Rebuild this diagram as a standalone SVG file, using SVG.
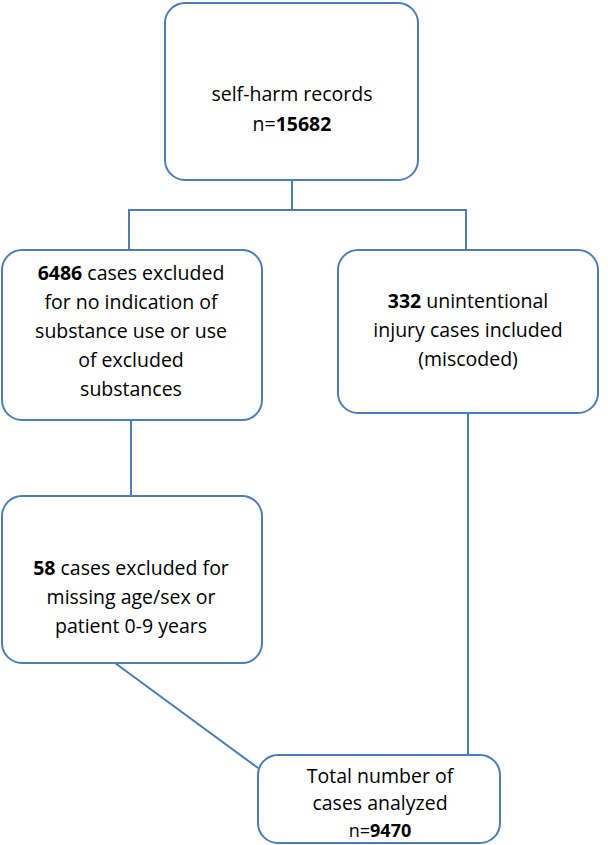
<svg xmlns="http://www.w3.org/2000/svg" width="608" height="845" viewBox="0 0 608 845">
<style>
.b{fill:#fff;stroke:#4a7ebb;stroke-width:2}
.c{fill:none;stroke:#4a7ebb;stroke-width:2}
text{font-family:"Open Sans","Liberation Sans",sans-serif;font-size:19.5px;fill:#000;text-anchor:middle}
.k{font-weight:bold}
</style>
<rect width="608" height="845" fill="#fff"/>
<g id="connectors">
<path class="c" d="M292,180V210M129,250V210H466V250M131,420V496M468,413V755M115,663L258,768"/>
</g>
<g id="n1"><rect class="b" x="165" y="3" width="253" height="177" rx="20"/>
<text x="292" y="101">self-harm records</text><text x="292" y="131">n=<tspan class="k">15682</tspan></text></g>
<g id="n2"><rect class="b" x="2" y="250" width="260" height="170" rx="20"/>
<text x="131" y="280"><tspan class="k">6486</tspan> cases excluded</text>
<text x="131" y="309">for no indication of</text>
<text x="131" y="338">substance use or use</text>
<text x="131" y="367">of excluded</text>
<text x="131" y="396">substances</text></g>
<g id="n3"><rect class="b" x="338" y="250" width="260" height="163" rx="20"/>
<text x="468" y="308"><tspan class="k">332</tspan> unintentional</text>
<text x="468" y="337">injury cases included</text>
<text x="468" y="366">(miscoded)</text></g>
<g id="n4"><rect class="b" x="2" y="496" width="260" height="167" rx="20"/>
<text x="131" y="575"><tspan class="k">58</tspan> cases excluded  for</text>
<text x="131" y="604">missing age/sex or</text>
<text x="131" y="633">patient 0-9 years</text></g>
<g id="n5"><rect class="b" x="258" y="755" width="242" height="88" rx="20"/>
<text x="380" y="783">Total number of</text>
<text x="380" y="810">cases analyzed</text>
<text x="380" y="837" style="font-size:18px">n=<tspan class="k">9470</tspan></text></g>
</svg>
